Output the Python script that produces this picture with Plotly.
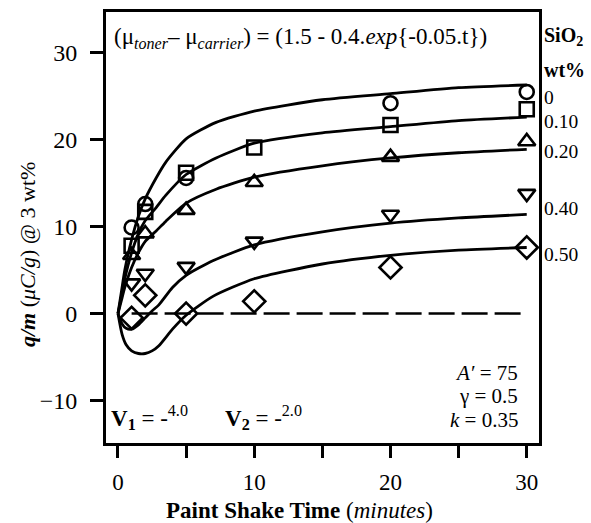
import plotly.graph_objects as go

# ---------------- data ----------------
# model curves
curve_t = [0, 0.25, 0.5, 1, 1.5, 2, 2.8, 3.5, 5, 7.2, 10, 15, 20, 25, 30]
curve_0 = [0, 2.5, 5.0, 8.5, 11.2, 13.2, 15.6, 17.4, 20.1, 22.0, 23.3, 24.6, 25.3, 26.0, 26.3]
curve_10 = [0, 2.0, 4.0, 7.0, 9.2, 10.7, 12.2, 13.6, 16.0, 17.9, 19.6, 20.8, 21.5, 22.2, 22.6]
curve_20 = [0, 1.5, 3.0, 5.3, 7.0, 8.3, 9.5, 10.6, 12.7, 14.3, 15.7, 17.0, 17.9, 18.5, 18.9]

curve_t2 = [0, 0.3, 0.6, 1, 1.5, 2, 2.5, 3, 4, 5, 7, 10, 15, 20, 25, 30]
curve_40 = [0, -1.2, -1.7, -1.8, -1.3, -0.5, 0.3, 1.0, 3.0, 4.4, 6.1, 7.9, 9.4, 10.4, 11.0, 11.4]
curve_50 = [0, -2.4, -3.6, -4.3, -4.6, -4.6, -4.3, -3.7, -1.8, -0.2, 2.0, 4.0, 5.7, 6.7, 7.3, 7.6]

# measured points
t_meas = [1, 2, 5, 10, 20, 30]
pts_0 = [9.9, 12.6, 15.6, None, 24.2, 25.5]
pts_10 = [7.8, 11.7, 16.2, 19.1, 21.7, 23.5]
pts_20 = [6.7, 9.2, 11.9, 15.1, 18.0, 19.8]
pts_40 = [3.5, 4.6, 5.4, 8.3, 11.4, 13.8]
pts_50 = [-0.5, 2.1, 0.0, 1.4, 5.3, 7.6]

zero_t = [1.0, 30]
zero_q = [0, 0]

x_ticks = [0, 10, 20, 30]
x_ticktext = ["0", "10", "20", "30"]
x_minor_dtick = 5
y_ticks = [-10, 0, 10, 20, 30]
y_ticktext = ["\u221210", "0", "10", "20", "30"]

x_title = "<b>Paint Shake Time</b> (<i>minutes</i>)"
y_title = "<b><i>q/m</i></b> (<i>\u03bcC/g</i>) @ 3 wt%"

wt_labels = ["0", "0.10", "0.20", "0.40", "0.50"]
wt_label_y = [97, 121, 152, 208, 255]  # pixel rows

FONT = "Liberation Serif"

fig = go.Figure()

fig.add_trace(go.Scatter(x=zero_t, y=zero_q, mode="lines",
                         line=dict(color="black", width=2.5, dash="26px,7px"),
                         showlegend=False, hoverinfo="skip"))

for ys in [curve_0, curve_10, curve_20]:
    fig.add_trace(go.Scatter(x=curve_t, y=ys, mode="lines",
                             line=dict(color="black", width=2.8, shape="spline", smoothing=0.6),
                             showlegend=False))
for ys in [curve_40, curve_50]:
    fig.add_trace(go.Scatter(x=curve_t2, y=ys, mode="lines",
                             line=dict(color="black", width=2.8, shape="spline", smoothing=0.6),
                             showlegend=False))

symbols = ["circle-open", "square-open", "triangle-up-open", "triangle-down-open", "diamond-open"]
sizes = [14, 14, 15, 15, 17]
for ys, sym, sz in zip([pts_0, pts_10, pts_20, pts_40, pts_50], symbols, sizes):
    fig.add_trace(go.Scatter(x=t_meas, y=ys, mode="markers",
                             marker=dict(symbol=sym, size=sz, color="black",
                                         line=dict(color="black", width=2.6)),
                             showlegend=False))

W, H = 591, 523
ml, mr, mt, mb = 106, 52, 12, 80

fig.update_layout(
    width=W, height=H,
    margin=dict(l=ml, r=mr, t=mt, b=mb, autoexpand=False),
    paper_bgcolor="white", plot_bgcolor="white",
    font=dict(family=FONT, color="black", size=22),
    xaxis=dict(range=[-0.88, 30.9], tickvals=x_ticks, ticktext=x_ticktext,
               ticks="outside", ticklen=12, tickwidth=3, tickcolor="black",
               minor=dict(dtick=x_minor_dtick, tick0=0, ticks="outside", ticklen=12,
                          tickwidth=3, tickcolor="black", showgrid=False),
               showline=True, linewidth=3, linecolor="black", mirror=True,
               showgrid=False, zeroline=False, ticklabelstandoff=4,
               automargin=False,
               tickfont=dict(size=23, family=FONT)),
    yaxis=dict(range=[-14.9, 34.7], tickvals=y_ticks, ticktext=y_ticktext,
               ticks="outside", ticklen=13, tickwidth=3, tickcolor="black",
               showline=True, linewidth=3, linecolor="black", mirror=True,
               showgrid=False, zeroline=False, ticklabelstandoff=8,
               automargin=False,
               tickfont=dict(size=24, family=FONT)),
)

def px2paper_x(px):
    return (px - ml) / (W - ml - mr)

def px2paper_y(py):
    return 1 - (py - mt) / (H - mt - mb)

ann = []
ann.append(dict(text=x_title, x=px2paper_x(299), y=px2paper_y(510),
                xanchor="center", yanchor="middle", font=dict(size=23)))
ann.append(dict(text=y_title, x=px2paper_x(28), y=px2paper_y(255), textangle=-90,
                xanchor="center", yanchor="middle", font=dict(size=22)))
ann.append(dict(text="(\u03bc<sub><i>toner</i></sub>\u2013 \u03bc<sub><i>carrier</i></sub>) = (1.5 - 0.4.<i>exp</i>{-0.05.t})",
                x=px2paper_x(112), y=px2paper_y(38), xanchor="left", yanchor="middle",
                font=dict(size=23)))
ann.append(dict(text="<b>SiO<sub>2</sub></b>", x=px2paper_x(542), y=px2paper_y(36),
                xanchor="left", yanchor="middle", font=dict(size=20)))
ann.append(dict(text="<b>wt%</b>", x=px2paper_x(542), y=px2paper_y(70),
                xanchor="left", yanchor="middle", font=dict(size=20)))
for lab, py in zip(wt_labels, wt_label_y):
    ann.append(dict(text=lab, x=px2paper_x(542), y=px2paper_y(py),
                    xanchor="left", yanchor="middle", font=dict(size=19.5)))
ann.append(dict(text="<b>V<sub>1</sub></b> = -<sup>4.0</sup>", x=px2paper_x(109), y=px2paper_y(417),
                xanchor="left", yanchor="middle", font=dict(size=23)))
ann.append(dict(text="<b>V<sub>2</sub></b> = -<sup>2.0</sup>", x=px2paper_x(223), y=px2paper_y(417),
                xanchor="left", yanchor="middle", font=dict(size=23)))
for txt, py in [("<i>A\u2032</i> = 75", 373), ("\u03b3 = 0.5", 396), ("<i>k</i> = 0.35", 420)]:
    ann.append(dict(text=txt, x=px2paper_x(520), y=px2paper_y(py),
                    xanchor="right", yanchor="middle", font=dict(size=21)))
for a in ann:
    a.update(xref="paper", yref="paper", showarrow=False)
fig.update_layout(annotations=ann)

fig.write_html("out.html")
